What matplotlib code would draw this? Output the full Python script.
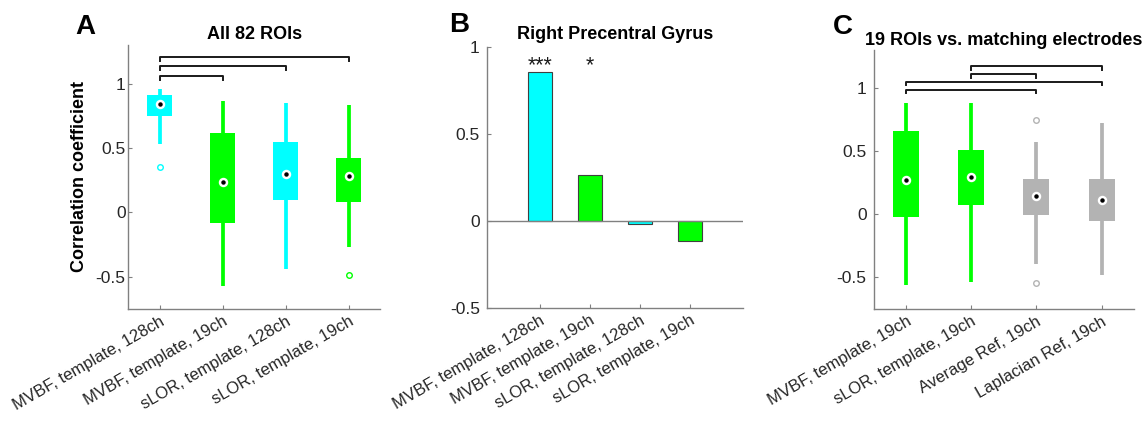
import matplotlib
matplotlib.use("Agg")
import matplotlib.pyplot as plt

plt.rcParams['font.family'] = ['Liberation Sans', 'DejaVu Sans']

# panel A : all 82 ROIs
a_labels = ['MVBF, template, 128ch', 'MVBF, template, 19ch',
            'sLOR, template, 128ch', 'sLOR, template, 19ch']
a_colors = ['#00ffff', '#00ff00', '#00ffff', '#00ff00']
a_whislo = [0.53, -0.57, -0.44, -0.27]
a_q1 = [0.747, -0.08, 0.10, 0.08]
a_med = [0.845, 0.235, 0.30, 0.285]
a_q3 = [0.918, 0.62, 0.55, 0.42]
a_whishi = [0.965, 0.865, 0.85, 0.84]
a_fliers = [[0.355], [], [], [-0.49]]
a_pairs = [(1, 2), (1, 3), (1, 4)]
a_pair_y = [1.06, 1.14, 1.21]

# panel B : right precentral gyrus
b_labels = a_labels
b_colors = a_colors
b_values = [0.855, 0.263, -0.017, -0.118]
b_stars = ['***', '*', '', '']

# panel C : 19 ROIs vs matching electrodes
c_labels = ['MVBF, template, 19ch', 'sLOR, template, 19ch',
            'Average Ref, 19ch', 'Laplacian Ref, 19ch']
c_colors = ['#00ff00', '#00ff00', '#b3b3b3', '#b3b3b3']
c_whislo = [-0.563, -0.537, -0.392, -0.479]
c_q1 = [-0.019, 0.073, -0.005, -0.053]
c_med = [0.27, 0.294, 0.142, 0.113]
c_q3 = [0.657, 0.505, 0.279, 0.279]
c_whishi = [0.884, 0.884, 0.573, 0.723]
c_fliers = [[], [], [0.744, -0.547], []]
c_pairs = [(1, 3), (1, 4), (2, 3), (2, 4)]
c_pair_y = [0.986, 1.05, 1.11, 1.173]

AX_COL = '#808080'
TXT_COL = '#262626'


def style_axes(ax, labels, ypad):
    for s in ['top', 'right']:
        ax.spines[s].set_visible(False)
    for s in ['left', 'bottom']:
        ax.spines[s].set_color(AX_COL)
        ax.spines[s].set_linewidth(1.0)
    ax.tick_params(direction='in', length=3, color=AX_COL, labelcolor=TXT_COL,
                   labelsize=12.5)
    ax.tick_params(axis='y', pad=ypad)
    ax.set_xticks(range(1, len(labels) + 1))
    ax.set_xticklabels(labels, rotation=30, ha='right', rotation_mode='anchor',
                       fontsize=12)
    ax.set_yticks([-0.5, 0, 0.5, 1])
    ax.set_yticklabels(['-0.5', '0', '0.5', '1'])


def draw_boxes(ax, colors, whislo, q1, med, q3, whishi, fliers):
    stats = []
    for i in range(len(med)):
        stats.append(dict(whislo=whislo[i], q1=q1[i], med=med[i], q3=q3[i],
                          whishi=whishi[i], fliers=fliers[i]))
    pos = list(range(1, len(med) + 1))
    bp = ax.bxp(stats, positions=pos, widths=0.4, patch_artist=True,
                showcaps=False, boxprops=dict(linewidth=0),
                whiskerprops=dict(linewidth=2.7, solid_capstyle='butt'),
                medianprops=dict(linewidth=0),
                flierprops=dict(marker='o', markersize=4, markerfacecolor='none',
                                markeredgewidth=1))
    for i, c in enumerate(colors):
        bp['boxes'][i].set_facecolor(c)
        bp['boxes'][i].set_edgecolor('none')
        bp['whiskers'][2 * i].set_color(c)
        bp['whiskers'][2 * i + 1].set_color(c)
        bp['fliers'][i].set_markeredgecolor(c)
    ax.plot(pos, med, 'o', ms=6.8, mfc='white', mec='none', zorder=5)
    ax.plot(pos, med, 'o', ms=2.2, color='k', zorder=6)


def draw_brackets(ax, pairs, ys, leg=0.03):
    for (i, j), y in zip(pairs, ys):
        ax.plot([i, i, j, j], [y - leg, y, y, y - leg], color='#1a1a1a', lw=1.4,
                clip_on=False)


fig = plt.figure(figsize=(11.48, 4.26), dpi=100)

# A
axA = fig.add_axes([0.1118, 0.2754, 0.2192, 0.6178])
draw_boxes(axA, a_colors, a_whislo, a_q1, a_med, a_q3, a_whishi, a_fliers)
draw_brackets(axA, a_pairs, a_pair_y)
axA.set_xlim(0.5, 4.5)
axA.set_ylim(-0.75, 1.3)
style_axes(axA, a_labels, 2)
axA.set_title('All 82 ROIs', fontsize=13, fontweight='bold', pad=4.5)

# B
axB = fig.add_axes([0.4240, 0.2777, 0.2232, 0.6131])
axB.bar(range(1, 5), b_values, width=0.49, color=b_colors, edgecolor='#404040',
        linewidth=0.8, zorder=3)
axB.axhline(0, color=AX_COL, lw=1.0, zorder=4)
for i, s in enumerate(b_stars):
    if s:
        axB.text(i + 1, 0.86, s, ha='center', va='baseline', fontsize=15.5,
                 color='#1a1a1a')
axB.set_xlim(-0.065, 5.065)
axB.set_ylim(-0.5, 1)
style_axes(axB, b_labels, 5)
axB.set_title('Right Precentral Gyrus', fontsize=13, fontweight='bold', pad=5.5)

# C
axC = fig.add_axes([0.7609, 0.2746, 0.2270, 0.6080])
draw_boxes(axC, c_colors, c_whislo, c_q1, c_med, c_q3, c_whishi, c_fliers)
draw_brackets(axC, c_pairs, c_pair_y, leg=0.028)
axC.set_xlim(0.5, 4.5)
axC.set_ylim(-0.75, 1.3)
style_axes(axC, c_labels, 5)
axC.set_title('19 ROIs vs. matching electrodes', fontsize=13, fontweight='bold',
              pad=3.5)

fig.text(80 / 1148, 1 - 177 / 426, 'Correlation coefficient', rotation=90,
         fontsize=13, fontweight='bold', ha='center', va='center')
fig.text(85 / 1148, 1 - 27 / 426, 'A', fontsize=20, fontweight='bold',
         ha='center', va='center')
fig.text(459 / 1148, 1 - 25 / 426, 'B', fontsize=20, fontweight='bold',
         ha='center', va='center')
fig.text(843 / 1148, 1 - 27 / 426, 'C', fontsize=20, fontweight='bold',
         ha='center', va='center')

fig.savefig('out.png', dpi=100)
